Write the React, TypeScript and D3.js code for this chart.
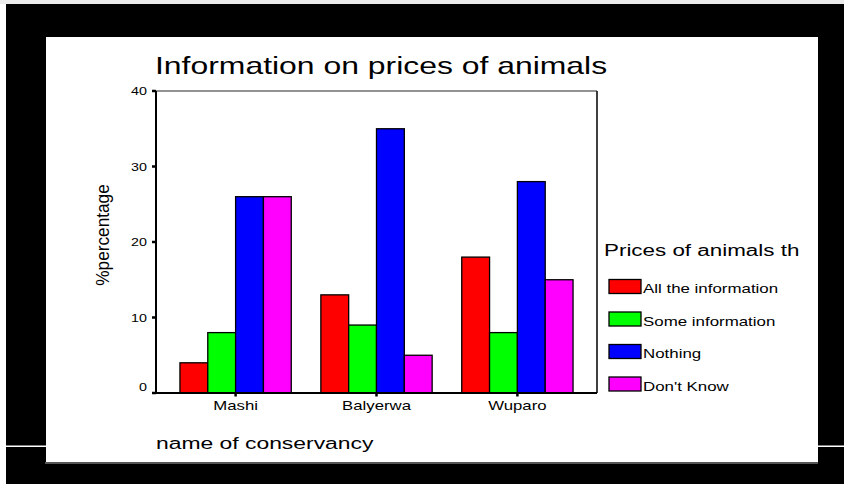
import React from "react";
import * as d3 from "d3";

const categories = ["Mashi", "Balyerwa", "Wuparo"];
const seriesNames = ["All the information", "Some information", "Nothing", "Don't Know"];
const seriesColors = ["#ff0000", "#00ff00", "#0000ff", "#ff00ff"];
const allInfo = [4, 13, 18];
const someInfo = [8, 9, 8];
const nothing = [26, 35, 28];
const dontKnow = [26, 5, 15];
const yTicks = [0, 10, 20, 30, 40];

const seriesValues = [allInfo, someInfo, nothing, dontKnow];

const FONT = "'Liberation Sans', Arial, Helvetica, sans-serif";

function SText(props: {
  x: number; y: number; sx?: number; size: number; anchor?: string; children: React.ReactNode;
}) {
  const { x, y, sx = 1, size, anchor = "start", children } = props;
  return (
    <text
      transform={`translate(${x},${y}) scale(${sx},1)`}
      fontFamily={FONT}
      fontSize={size}
      textAnchor={anchor}
      fill="#000"
    >
      {children}
    </text>
  );
}

export default function App() {
  const W = 844, H = 484;
  const plotL = 156, plotR = 597, plotT = 91, plotB = 393;

  const x = d3.scaleBand<string>().domain(categories).range([plotL, plotR]).paddingInner(0.21).paddingOuter(0.17);
  const xs = d3.scaleBand<string>().domain(seriesNames).range([0, x.bandwidth()]).padding(0);
  const y = d3.scaleLinear().domain([0, 40]).range([plotB, plotT]);

  const legendX = 609;
  const legendY0 = 279.5;
  const legendStep = 32.5;

  return (
    <svg
      width={W}
      height={H}
      viewBox={`0 0 ${W} ${H}`}
      style={{ position: "absolute", left: 0, top: 0, display: "block" }}
    >
      <rect x={0} y={0} width={W} height={H} fill="#ffffff" />
      <rect x={0} y={0} width={W} height={4} fill="#ececec" />
      <rect x={6} y={4} width={W - 6} height={H - 4} fill="#000000" />
      <rect x={6} y={445.5} width={W - 6} height={1.5} fill="#ffffff" />
      {/* white panel */}
      <rect x={46} y={37} width={772} height={425} fill="#ffffff" />
      <rect x={45} y={462} width={773} height={2} fill="#555555" />

      {/* title */}
      <SText x={155} y={74} size={24} sx={1.33}>Information on prices of animals</SText>

      {/* plot frame */}
      <line x1={plotL} x2={plotR} y1={plotT} y2={plotT} stroke="#6e6e6e" strokeWidth={1.5} />
      <line x1={plotR} x2={plotR} y1={plotT} y2={plotB} stroke="#000" strokeWidth={1.5} />

      {/* bars */}
      {categories.map((c, ci) =>
        seriesNames.map((s, si) => {
          const v = seriesValues[si][ci];
          const bx = (x(c) as number) + (xs(s) as number);
          return (
            <rect
              key={c + s}
              x={bx}
              y={y(v)}
              width={xs.bandwidth()}
              height={y(0) - y(v)}
              fill={seriesColors[si]}
              stroke="#000"
              strokeWidth={1.3}
            />
          );
        })
      )}

      {/* axes */}
      <line x1={plotL} x2={plotL} y1={plotT} y2={plotB} stroke="#000" strokeWidth={2} />
      <line x1={plotL} x2={plotR} y1={plotB} y2={plotB} stroke="#000" strokeWidth={2} />

      {yTicks.map((t) => (
        <g key={t}>
          <line x1={plotL - 4} x2={plotL} y1={y(t)} y2={y(t)} stroke="#000" strokeWidth={2.5} />
          <SText x={147} y={y(t) + 4 - (t === 0 ? 6.5 : 0)} size={11} sx={1.3} anchor="end">{String(t)}</SText>
        </g>
      ))}

      {categories.map((c) => {
        const cx = (x(c) as number) + x.bandwidth() / 2;
        return (
          <g key={c}>
            <line x1={cx} x2={cx} y1={plotB} y2={plotB + 3.5} stroke="#000" strokeWidth={2.5} />
            <SText x={cx} y={410} size={13} sx={1.29} anchor="middle">{c}</SText>
          </g>
        );
      })}

      {/* axis titles */}
      <text
        transform={`translate(108.5,235) rotate(-90) scale(1.15,1.25)`}
        fontFamily={FONT}
        fontSize={15}
        textAnchor="middle"
        fill="#000"
      >
        %percentage
      </text>
      <SText x={156} y={449} size={16} sx={1.43}>name of conservancy</SText>

      {/* legend */}
      <SText x={604} y={256} size={16} sx={1.4}>Prices of animals th</SText>
      {seriesNames.map((s, i) => {
        const ly = legendY0 + i * legendStep;
        return (
          <g key={s}>
            <rect x={legendX} y={ly} width={32} height={14} fill={seriesColors[i]} stroke="#000" strokeWidth={1.3} />
            <SText x={643} y={ly + 13.5} size={13} sx={1.3}>{s}</SText>
          </g>
        );
      })}
    </svg>
  );
}
